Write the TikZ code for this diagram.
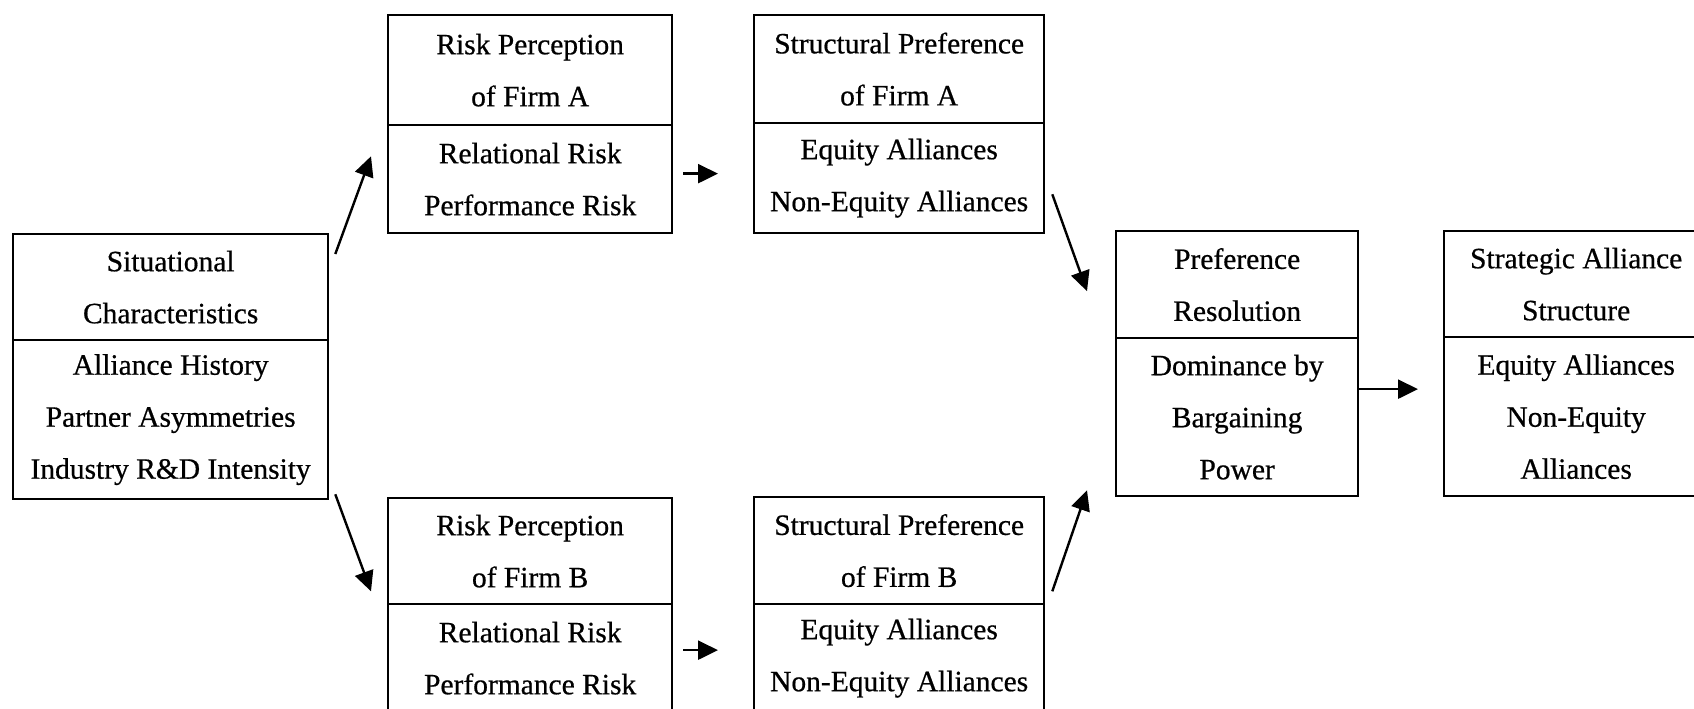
\documentclass[tikz,border=0pt]{standalone}
\usepackage{fontspec}
\setmainfont{Liberation Serif}[FakeBold=0.6]
\usetikzlibrary{arrows.meta,calc}
\begin{document}
\begin{tikzpicture}[x=1pt,y=-1pt,
  cell/.style={draw, line width=2.3pt, anchor=north west, align=center,
    inner sep=0pt, font=\fontsize{29.5}{52}\selectfont},
  flow/.style={line width=2.4pt, -{Triangle[length=20pt,width=19pt]}}]
\useasboundingbox (0,0) rectangle (1694,709);
\clip (0,0) rectangle (1694,709);

% situational characteristics
\node[cell, minimum width=315pt, minimum height=106pt] (sitT) at (12,233) {Situational\\Characteristics};
\node[cell, minimum width=315pt, minimum height=159pt] (sitB) at (12,339) {Alliance History\\Partner Asymmetries\\Industry R\&D Intensity};

% firm A
\node[cell, minimum width=284pt, minimum height=110pt] (rAT) at (387,14) {Risk Perception\\of Firm A};
\node[cell, minimum width=284pt, minimum height=108pt] (rAB) at (387,124) {Relational Risk\\Performance Risk};
\node[cell, minimum width=290pt, minimum height=108pt] (sAT) at (753,14) {Structural Preference\\of Firm A};
\node[cell, minimum width=290pt, minimum height=110pt] (sAB) at (753,122) {Equity Alliances\\Non-Equity Alliances};

% firm B
\node[cell, minimum width=284pt, minimum height=106pt] (rBT) at (387,497) {Risk Perception\\of Firm B};
\node[cell, minimum width=284pt, minimum height=108pt] (rBB) at (387,603) {Relational Risk\\Performance Risk};
\node[cell, minimum width=290pt, minimum height=107pt] (sBT) at (753,496) {Structural Preference\\of Firm B};
\node[cell, minimum width=290pt, minimum height=108pt] (sBB) at (753,603) {Equity Alliances\\Non-Equity Alliances};

% resolution and outcome
\node[cell, minimum width=242pt, minimum height=107pt] (pT) at (1115,230) {Preference\\Resolution};
\node[cell, minimum width=242pt, minimum height=158pt] (pB) at (1115,337) {Dominance by\\Bargaining\\Power};
\node[cell, minimum width=264pt, minimum height=106pt] (gT) at (1443,230) {Strategic Alliance\\Structure};
\node[cell, minimum width=264pt, minimum height=159pt] (gB) at (1443,336) {Equity Alliances\\Non-Equity\\Alliances};

% connectors
\draw[flow] ($(sitT.north east)+(6,21)$) -- ($(rAT.south west)+(-16,30)$);
\draw[flow] ($(sitB.south east)+(6,-6)$) -- ($(rBT.south west)+(-16,-14)$);
\draw[flow] ($(rAB.east)+(10,-5.5)$) -- ($(sAB.west)+(-35,-4.5)$);
\draw[flow] ($(rBB.east)+(10,-8)$) -- ($(sBB.west)+(-35,-8)$);
\draw[flow] ($(sAB.south east)+(7,-40)$) -- ($(pT.west)+(-28,6.5)$);
\draw[flow] ($(sBT.south east)+(7,-14)$) -- ($(pB.south west)+(-28,-7)$);
\draw[flow] ($(pB.east)+(0,-28)$) -- ($(gB.west)+(-25,-27.5)$);
\end{tikzpicture}
\end{document}
